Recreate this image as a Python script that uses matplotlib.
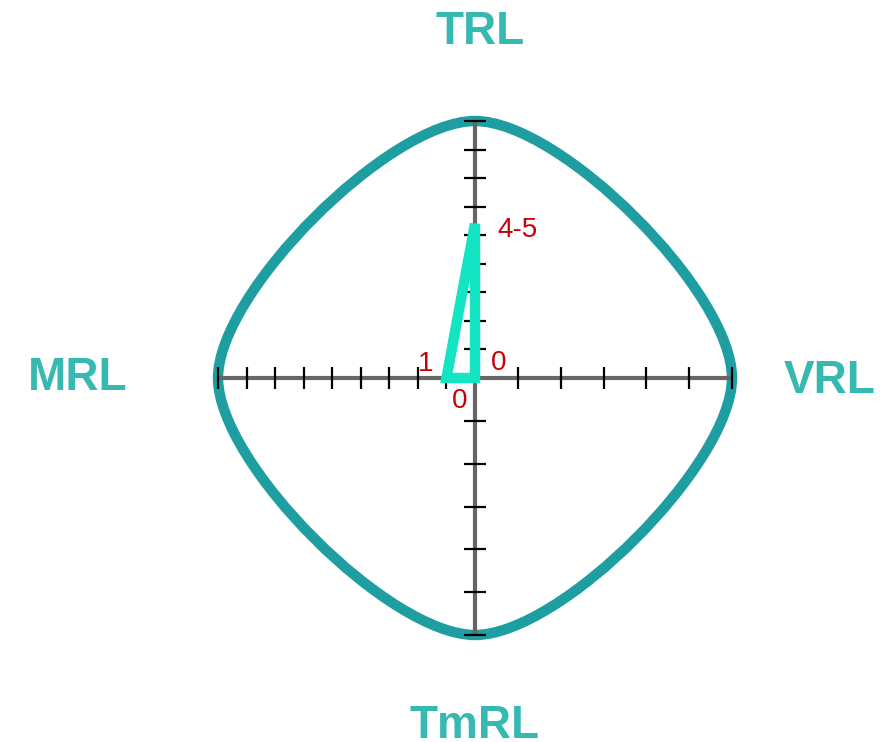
import numpy as np
import matplotlib.pyplot as plt
from matplotlib.path import Path
from matplotlib.patches import PathPatch

# axes of the chart, clockwise from the top
eixos = ['TRL', 'VRL', 'TmRL', 'MRL']
maximos = [9, 6, 6, 9]            # number of ticks on each axis
valores = [5.4, 0, 0, 1]          # position of each vertex on its axis
rotulos = ['4-5', '0', '0', '1']  # text shown next to each vertex

direcoes = np.array([[0, 1], [1, 0], [0, -1], [-1, 0]])

cor_eixo = '#666666'
cor_contorno = '#1f9ea1'
cor_poligono = '#12e4c4'
cor_titulo = '#36b9b0'
cor_valor = '#c8000a'

R = 257.0   # axis length in pixels
dpi = 100


def posicao(i, v):
    return direcoes[i] * v / maximos[i]


def contorno():
    # closed Catmull-Rom curve through the end of each axis
    p = [posicao(i, maximos[i]) for i in range(4)]
    n = len(p)
    verts = [p[0]]
    for i in range(n):
        p0, p1, p2, p3 = p[i - 1], p[i], p[(i + 1) % n], p[(i + 2) % n]
        verts += [p1 + (p2 - p0) / 6, p2 - (p3 - p1) / 6, p2]
    verts.append(p[0])
    codes = [Path.MOVETO] + [Path.CURVE4] * (3 * n) + [Path.CLOSEPOLY]
    return Path(verts, codes)


def gera_figura():
    fig = plt.figure(figsize=(8.84, 7.42), dpi=dpi)
    ax = fig.add_axes([0, 0, 1, 1])
    ax.set_xlim(-475 / R, 409 / R)
    ax.set_ylim(-364 / R, 378 / R)
    ax.axis('off')

    ax.add_patch(PathPatch(contorno(), fill=False, ec=cor_contorno,
                           lw=7.5, zorder=1))

    # axis lines
    ax.plot([-1, 1], [0, 0], color=cor_eixo, lw=3, zorder=2,
            solid_capstyle='butt')
    ax.plot([0, 0], [-1, 1], color=cor_eixo, lw=3, zorder=2,
            solid_capstyle='butt')

    # ticks
    for i in range(4):
        pts = np.array([posicao(i, j) for j in range(1, maximos[i] + 1)])
        marcador = '_' if direcoes[i][0] == 0 else '|'
        ax.plot(pts[:, 0], pts[:, 1], ls='none', marker=marcador,
                ms=16, mew=1.6, color='black', zorder=3)

    # patient polygon
    pts = [posicao(i, valores[i]) for i in range(4)]
    ax.add_patch(plt.Polygon(pts, closed=True, fill=False, ec=cor_poligono,
                             lw=7.5, joinstyle='miter', zorder=4))

    # value labels
    desloc_valor = [(22, -13), (24, 8), (-15, -30), (-21, 7)]
    alinh_valor = ['left', 'center', 'center', 'center']
    for i in range(4):
        ax.annotate(rotulos[i], xy=pts[i], xytext=desloc_valor[i],
                    textcoords='offset pixels', ha=alinh_valor[i],
                    va='baseline', fontsize=20, color=cor_valor,
                    family='Liberation Sans', zorder=5)

    # axis titles
    desloc_titulo = [(5, 77), (98, -15), (0, -103), (-140, -12)]
    for i in range(4):
        ax.annotate(eixos[i], xy=posicao(i, maximos[i]),
                    xytext=desloc_titulo[i], textcoords='offset pixels',
                    ha='center', va='baseline', fontsize=33,
                    fontweight='bold', color=cor_titulo,
                    family='Liberation Sans', zorder=5)

    plt.savefig('out.png', dpi=dpi)


if __name__ == '__main__':
    gera_figura()
